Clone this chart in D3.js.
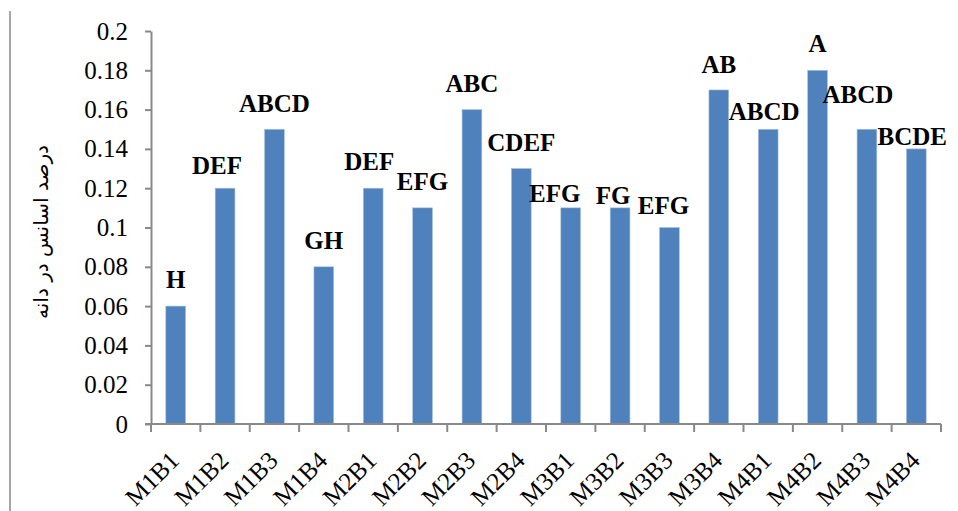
<!DOCTYPE html>
<html>
<head>
<meta charset="utf-8">
<script src="https://cdn.jsdelivr.net/npm/d3@7"></script>
<style>
  body { margin: 0; background: #fff; }
  svg { display: block; }
</style>
</head>
<body>
<script>
// chart data
var categories = ["M1B1", "M1B2", "M1B3", "M1B4", "M2B1", "M2B2", "M2B3", "M2B4",
                  "M3B1", "M3B2", "M3B3", "M3B4", "M4B1", "M4B2", "M4B3", "M4B4"];
var values = [0.06, 0.12, 0.15, 0.08, 0.12, 0.11, 0.16, 0.13,
              0.11, 0.11, 0.10, 0.17, 0.15, 0.18, 0.15, 0.14];
var letters = ["H", "DEF", "ABCD", "GH", "DEF", "EFG", "ABC", "CDEF",
               "EFG", "FG", "EFG", "AB", "ABCD", "A", "ABCD", "BCDE"];
var yTickValues = [0, 0.02, 0.04, 0.06, 0.08, 0.1, 0.12, 0.14, 0.16, 0.18, 0.2];
var yTitle = "درصد اسانس در دانه";

// hand-placed label shifts (dx, dy) as in the original
var labelShift = [[0, 0], [-8, 4], [0, 1], [0, 0], [-4, 0], [0, 0], [0, 0], [0, 0],
                  [-16, 12], [-7, 14], [-6, 4], [0, 1], [-4, 9], [0, 0], [-9, -8], [-4, 14]];

var svgWidth = 958;
var svgHeight = 511;
var plot = { left: 151, right: 941, top: 31, bottom: 424 };
var axisColor = "#898989";
var serif = "'Liberation Serif', 'Times New Roman', Times, serif";

var svg = d3.select("body")
    .append("svg")
    .attr("width", svgWidth)
    .attr("height", svgHeight);

// frame line on the left
svg.append("line")
    .attr("x1", 10).attr("x2", 10)
    .attr("y1", 11).attr("y2", svgHeight)
    .attr("stroke", "#a6a6a6")
    .attr("stroke-width", 2);

var xScale = d3.scaleBand()
    .domain(categories)
    .range([plot.left, plot.right])
    .paddingInner(0.6)
    .paddingOuter(0.3);

var yScale = d3.scaleLinear()
    .domain([0, 0.2])
    .range([plot.bottom, plot.top]);

// y axis
var yAxisG = svg.append("g")
    .attr("transform", `translate(${plot.left},0)`)
    .call(d3.axisLeft(yScale)
        .tickValues(yTickValues)
        .tickFormat(d => String(d))
        .tickSize(6)
        .tickPadding(17)
        .tickSizeOuter(0));
yAxisG.select(".domain").attr("stroke", axisColor).attr("stroke-width", 2);
yAxisG.selectAll(".tick line").attr("stroke", axisColor).attr("stroke-width", 2);
yAxisG.selectAll(".tick text")
    .attr("font-family", serif)
    .attr("font-size", 25)
    .attr("fill", "#000");

// bars
svg.selectAll(".bar")
    .data(values)
    .enter()
    .append("rect")
    .attr("class", "bar")
    .attr("x", (d, i) => xScale(categories[i]))
    .attr("width", xScale.bandwidth())
    .attr("y", d => yScale(d))
    .attr("height", d => yScale(0) - yScale(d))
    .attr("fill", "#4f81bd")
    .attr("stroke", "#a9c1df")
    .attr("stroke-width", 0.6);

// x axis: line, ticks between categories, rotated labels
var gap = (xScale.step() - xScale.bandwidth()) / 2;
var edges = categories.map(c => xScale(c) - gap).concat([plot.right]);
var xAxisG = svg.append("g");
xAxisG.append("line")
    .attr("x1", plot.left - 6).attr("x2", plot.right)
    .attr("y1", plot.bottom).attr("y2", plot.bottom)
    .attr("stroke", axisColor).attr("stroke-width", 2);
xAxisG.selectAll(".xtick")
    .data(edges)
    .enter()
    .append("line")
    .attr("class", "xtick")
    .attr("x1", d => d).attr("x2", d => d)
    .attr("y1", plot.bottom).attr("y2", plot.bottom + 8)
    .attr("stroke", axisColor).attr("stroke-width", 2);
xAxisG.selectAll(".xlabel")
    .data(categories)
    .enter()
    .append("text")
    .attr("class", "xlabel")
    .attr("transform", d => `translate(${xScale(d) + xScale.bandwidth() / 2 + 5},${plot.bottom + 38}) rotate(-45)`)
    .attr("text-anchor", "end")
    .attr("font-family", serif)
    .attr("font-size", 25)
    .attr("fill", "#000")
    .text(d => d);

// letter labels above bars
svg.selectAll(".letter")
    .data(values)
    .enter()
    .append("text")
    .attr("class", "letter")
    .attr("x", (d, i) => xScale(categories[i]) + xScale.bandwidth() / 2 + labelShift[i][0])
    .attr("y", (d, i) => yScale(d) - 18 + labelShift[i][1])
    .attr("text-anchor", "middle")
    .attr("font-family", serif)
    .attr("font-weight", "bold")
    .attr("font-size", 25)
    .attr("fill", "#000")
    .text((d, i) => letters[i]);

// y axis title
svg.append("text")
    .attr("transform", "translate(48,232) rotate(-90)")
    .attr("text-anchor", "middle")
    .attr("font-family", "'DejaVu Sans', sans-serif")
    .attr("font-size", 20)
    .attr("fill", "#000")
    .text(yTitle);
</script>
</body>
</html>
